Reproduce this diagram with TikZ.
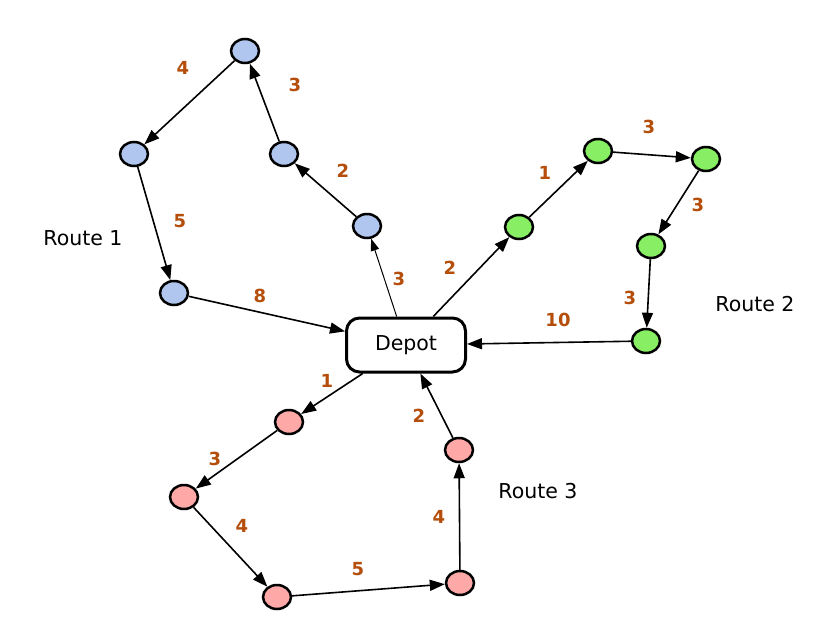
\documentclass[tikz,border=0pt]{standalone}
\usepackage{fontspec}
\setmainfont{DejaVu Sans}
\usetikzlibrary{shapes.geometric,arrows.meta}
\definecolor{bluefill}{RGB}{176,198,238}
\definecolor{greenfill}{RGB}{136,238,100}
\definecolor{redfill}{RGB}{255,168,168}
\definecolor{lblcol}{RGB}{180,78,10}
\tikzset{
  stop/.style={ellipse, draw=black, line width=2.5pt, minimum width=28pt, minimum height=24pt, inner sep=0pt},
  depotbox/.style={draw=black, line width=3pt, rounded corners=13pt, minimum width=119pt, minimum height=54pt, fill=white, font=\fontsize{20.5}{24}\selectfont},
  routelbl/.style={font=\fontsize{20.5}{24}\selectfont},
  wlbl/.style={font=\fontsize{18}{21}\selectfont\bfseries, text=lblcol},
  edge/.style={line width=1.6pt, -{Triangle[length=15pt,width=11pt]}},
  thinedge/.style={line width=1pt, -{Triangle[length=12pt,width=8.5pt]}}
}
\begin{document}
\begin{tikzpicture}[x=1pt,y=-1pt]
\fill[white] (0,0) rectangle (840,632);
\useasboundingbox (0,0) rectangle (840,632);
% depot
\node[depotbox] (D) at (406,345) {Depot};
% route 1
\node[stop, fill=bluefill] (b1) at (245,51) {};
\node[stop, fill=bluefill] (b2) at (134,154) {};
\node[stop, fill=bluefill] (b3) at (284,154) {};
\node[stop, fill=bluefill] (b4) at (367,226) {};
\node[stop, fill=bluefill] (b5) at (174,293) {};
% route 2
\node[stop, fill=greenfill] (g1) at (519,227) {};
\node[stop, fill=greenfill] (g2) at (598,151) {};
\node[stop, fill=greenfill] (g3) at (706,159) {};
\node[stop, fill=greenfill] (g4) at (651,246) {};
\node[stop, fill=greenfill] (g5) at (646,341) {};
% route 3
\node[stop, fill=redfill] (r1) at (289,422) {};
\node[stop, fill=redfill] (r2) at (184,497) {};
\node[stop, fill=redfill] (r3) at (277,597) {};
\node[stop, fill=redfill] (r4) at (460,583) {};
\node[stop, fill=redfill] (r5) at (459,450) {};
% route labels
\node[routelbl] (L1) at (83,238) {Route 1};
\node[routelbl] (L2) at (755,304) {Route 2};
\node[routelbl] (L3) at (538,491) {Route 3};
% edges route 1
\draw[thinedge] (D) -- (b4);
\draw[edge] (b4) -- (b3);
\draw[edge] (b3) -- (b1);
\draw[edge] (b1) -- (b2);
\draw[edge] (b2) -- (b5);
\draw[edge] (b5) -- (D);
% edges route 2
\draw[edge] (D) -- (g1);
\draw[edge] (g1) -- (g2);
\draw[edge] (g2) -- (g3);
\draw[edge] (g3) -- (g4);
\draw[edge] (g4) -- (g5);
\draw[edge] (g5) -- (D);
% edges route 3
\draw[edge] (D) -- (r1);
\draw[edge] (r1) -- (r2);
\draw[edge] (r2) -- (r3);
\draw[edge] (r3) -- (r4);
\draw[edge] (r4) -- (r5);
\draw[edge] (r5) -- (D);
% weights
\node[wlbl] (w1) at (399,279) {3};
\node[wlbl] (w2) at (343,171) {2};
\node[wlbl] (w3) at (295,85) {3};
\node[wlbl] (w4) at (183,68) {4};
\node[wlbl] (w5) at (180,221) {5};
\node[wlbl] (w6) at (260,296) {8};
\node[wlbl] (w7) at (450,268) {2};
\node[wlbl] (w8) at (545,173) {1};
\node[wlbl] (w9) at (649,127) {3};
\node[wlbl] (w10) at (698,205) {3};
\node[wlbl] (w11) at (630,298) {3};
\node[wlbl] (w12) at (558,320) {10};
\node[wlbl] (w13) at (327,381) {1};
\node[wlbl] (w14) at (215,459) {3};
\node[wlbl] (w15) at (242,526) {4};
\node[wlbl] (w16) at (358,569) {5};
\node[wlbl] (w17) at (439,517) {4};
\node[wlbl] (w18) at (419,416) {2};
\end{tikzpicture}
\end{document}
